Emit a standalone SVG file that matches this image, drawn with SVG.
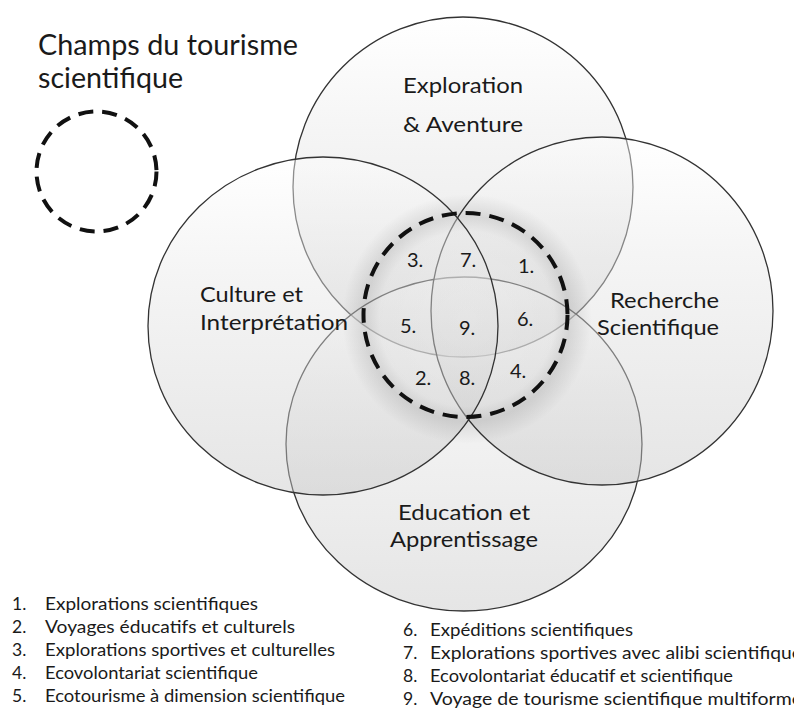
<svg xmlns="http://www.w3.org/2000/svg" width="794" height="711" viewBox="0 0 794 711">
<defs>
<linearGradient id="cg" x1="0" y1="0" x2="0" y2="1">
<stop offset="0" stop-color="#ffffff"/>
<stop offset="0.35" stop-color="#e8e8e8"/>
<stop offset="1" stop-color="#c6c6c6"/>
</linearGradient>
<radialGradient id="glow" cx="0.5" cy="0.5" r="0.5">
<stop offset="0" stop-color="#000" stop-opacity="0"/>
<stop offset="0.7" stop-color="#000" stop-opacity="0.02"/>
<stop offset="0.82" stop-color="#000" stop-opacity="0.10"/>
<stop offset="1" stop-color="#000" stop-opacity="0"/>
</radialGradient>
<style>
.c{fill:url(#cg);fill-opacity:0.45;stroke:#333;stroke-width:1.3}
.t{font-family:Lato,"Liberation Sans",sans-serif;fill:#1a1a1a}
.lbl{font-size:21px}
.num{font-size:20px}
.leg{font-size:17.5px}
.dash{fill:none;stroke:#111;stroke-width:4;stroke-dasharray:15 9}
</style>
</defs>
<rect width="794" height="711" fill="#fff"/>

<g id="title">
<text class="t" x="38" y="55" font-size="28" textLength="260" lengthAdjust="spacingAndGlyphs">Champs du tourisme</text>
<text class="t" x="38" y="88" font-size="28" textLength="145" lengthAdjust="spacingAndGlyphs">scientifique</text>
</g>

<g id="legend-circle">
<circle class="dash" cx="96.5" cy="171.5" r="60"/>
</g>

<g id="circle-exploration">
<circle class="c" cx="463" cy="187" r="170"/>
</g>
<g id="circle-education">
<ellipse class="c" cx="464" cy="444" rx="178" ry="167"/>
</g>
<g id="circle-recherche">
<ellipse class="c" cx="602" cy="311" rx="171" ry="174"/>
</g>
<g id="circle-culture">
<ellipse class="c" cx="323" cy="326" rx="175" ry="169"/>
</g>

<g id="scientific-field">
<circle cx="467" cy="319" r="125" fill="url(#glow)"/>
<circle class="dash" cx="465.5" cy="315" r="102"/>
</g>

<g id="labels">
<text class="t lbl" x="403" y="93" textLength="120" lengthAdjust="spacingAndGlyphs">Exploration</text>
<text class="t lbl" x="403" y="132" textLength="120" lengthAdjust="spacingAndGlyphs">&amp; Aventure</text>
<text class="t lbl" x="200" y="302" textLength="103" lengthAdjust="spacingAndGlyphs">Culture et</text>
<text class="t lbl" x="200" y="330" textLength="148" lengthAdjust="spacingAndGlyphs">Interprétation</text>
<text class="t lbl" x="610" y="308" textLength="109" lengthAdjust="spacingAndGlyphs">Recherche</text>
<text class="t lbl" x="597" y="335" textLength="122" lengthAdjust="spacingAndGlyphs">Scientifique</text>
<text class="t lbl" x="398" y="520" textLength="132" lengthAdjust="spacingAndGlyphs">Education et</text>
<text class="t lbl" x="390" y="547" textLength="148" lengthAdjust="spacingAndGlyphs">Apprentissage</text>
</g>

<g id="numbers">
<text class="t num" x="407" y="267">3.</text>
<text class="t num" x="460" y="267">7.</text>
<text class="t num" x="518" y="273">1.</text>
<text class="t num" x="400" y="333">5.</text>
<text class="t num" x="459" y="335">9.</text>
<text class="t num" x="517" y="326">6.</text>
<text class="t num" x="415" y="385">2.</text>
<text class="t num" x="459" y="385">8.</text>
<text class="t num" x="510" y="378">4.</text>
</g>

<g id="legend">
<text class="t leg" x="12" y="610">1.</text>
<text class="t leg" x="45" y="610" textLength="213" lengthAdjust="spacingAndGlyphs">Explorations scientifiques</text>
<text class="t leg" x="12" y="633">2.</text>
<text class="t leg" x="45" y="633" textLength="250" lengthAdjust="spacingAndGlyphs">Voyages éducatifs et culturels</text>
<text class="t leg" x="12" y="656">3.</text>
<text class="t leg" x="45" y="656" textLength="290" lengthAdjust="spacingAndGlyphs">Explorations sportives et culturelles</text>
<text class="t leg" x="12" y="679">4.</text>
<text class="t leg" x="45" y="679" textLength="213" lengthAdjust="spacingAndGlyphs">Ecovolontariat scientifique</text>
<text class="t leg" x="12" y="702">5.</text>
<text class="t leg" x="45" y="702" textLength="300" lengthAdjust="spacingAndGlyphs">Ecotourisme à dimension scientifique</text>
<text class="t leg" x="403" y="636">6.</text>
<text class="t leg" x="430" y="636" textLength="203" lengthAdjust="spacingAndGlyphs">Expéditions scientifiques</text>
<text class="t leg" x="403" y="659">7.</text>
<text class="t leg" x="430" y="659" textLength="372" lengthAdjust="spacingAndGlyphs">Explorations sportives avec alibi scientifique</text>
<text class="t leg" x="403" y="682">8.</text>
<text class="t leg" x="430" y="682" textLength="303" lengthAdjust="spacingAndGlyphs">Ecovolontariat éducatif et scientifique</text>
<text class="t leg" x="403" y="705">9.</text>
<text class="t leg" x="430" y="705" textLength="372" lengthAdjust="spacingAndGlyphs">Voyage de tourisme scientifique multiforme</text>
</g>
</svg>
